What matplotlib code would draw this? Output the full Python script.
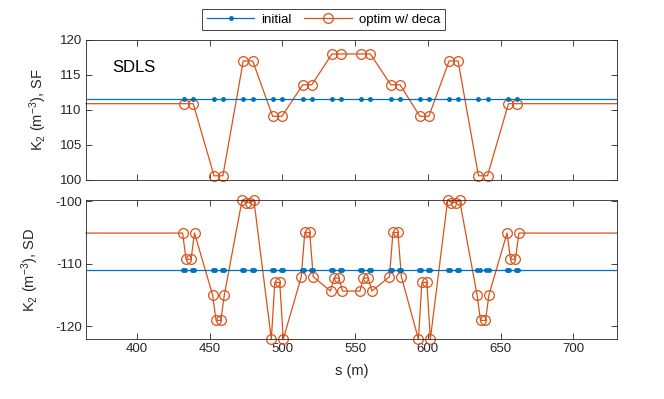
import matplotlib
matplotlib.use("Agg")
import matplotlib.pyplot as plt
from matplotlib.lines import Line2D

plt.rcParams['font.family'] = ['Liberation Sans', 'DejaVu Sans']
plt.rcParams['mathtext.fontset'] = 'custom'
plt.rcParams['mathtext.rm'] = 'Liberation Sans'
plt.rcParams['mathtext.it'] = 'Liberation Sans:italic'
plt.rcParams['axes.unicode_minus'] = False

# ---------------- data ----------------
x_limits = [365, 730]

# SF sextupole positions (m)
s_sf = [432.3, 438.7, 453.0, 459.1, 473.1, 479.6, 493.3, 499.7,
        514.0, 520.2, 534.1, 540.3, 554.3, 560.5, 574.5, 580.9,
        594.5, 600.7, 614.6, 620.8, 634.8, 641.0, 655.4, 661.6]
k2_sf_initial = [111.5] * 24
k2_sf_optim = [110.9, 110.9, 100.6, 100.6, 117.0, 117.0, 109.1, 109.1,
               113.6, 113.6, 118.0, 118.0, 118.0, 118.0, 113.6, 113.6,
               109.1, 109.1, 117.0, 117.0, 100.6, 100.6, 110.9, 110.9]

# SD sextupole positions (m), initial lattice
s_sd_initial = [431.6, 433.0, 438.0, 439.4, 452.3, 453.7, 458.4, 459.8,
                472.4, 473.8, 478.9, 480.3, 492.6, 494.0, 499.0, 500.4,
                513.3, 514.7, 519.5, 520.9, 533.4, 534.8, 539.6, 541.0,
                553.6, 555.0, 559.8, 561.2, 573.8, 575.2, 580.2, 581.6,
                593.8, 595.2, 600.0, 601.4, 613.9, 615.3, 620.1, 621.5,
                634.1, 635.5, 640.3, 641.7, 654.7, 656.1, 660.9, 662.3]
k2_sd_initial = [-111.0] * 48

# SD sextupole positions (m), optimised lattice
s_sd_optim = [431.4, 433.8, 437.2, 439.6, 452.0, 454.4, 457.7, 460.1,
              472.3, 474.7, 478.0, 480.4, 492.4, 494.8, 498.2, 500.6,
              513.0, 515.4, 518.8, 521.2, 533.1, 535.5, 538.9, 541.3,
              553.3, 555.7, 559.1, 561.5, 573.6, 576.0, 579.4, 581.8,
              593.5, 595.9, 599.3, 601.7, 613.6, 616.0, 619.4, 621.8,
              633.8, 636.2, 639.6, 642.0, 654.4, 656.8, 660.2, 662.6]
k2_sd_optim = [-105.1, -109.3, -109.3, -105.1,
               -115.0, -119.1, -119.1, -115.0,
               -99.8, -100.2, -100.2, -99.8,
               -122.1, -113.0, -113.0, -122.1,
               -112.1, -105.0, -105.0, -112.1,
               -114.4, -112.3, -112.3, -114.4,
               -114.4, -112.3, -112.3, -114.4,
               -112.1, -105.0, -105.0, -112.1,
               -122.1, -113.0, -113.0, -122.1,
               -99.8, -100.2, -100.2, -99.8,
               -115.0, -119.1, -119.1, -115.0,
               -105.1, -109.3, -109.3, -105.1]

sf_yticks = [100, 105, 110, 115, 120]
sd_yticks = [-120, -110, -100]
x_ticks = [400, 450, 500, 550, 600, 650, 700]

# ---------------- style ----------------
c_init = '#0072BD'
c_opt = '#D95319'
axis_col = '#262626'
ms_opt = 7.0
ms_init = 5.0

fig = plt.figure(figsize=(6.64, 3.99), dpi=100)
ax1 = fig.add_axes([0.1295, 0.5489, 0.7997, 0.3509])
ax2 = fig.add_axes([0.1295, 0.1496, 0.7997, 0.3491])


def extend(s, v):
    xs = [x_limits[0]] + list(s) + [x_limits[1]]
    ys = [v[0]] + list(v) + [v[-1]]
    return xs, ys


def draw(ax, s_i, v_i, s_o, v_o):
    xs, ys = extend(s_o, v_o)
    ax.plot(xs, ys, color=c_opt, lw=0.9, marker='o', ms=ms_opt, mfc='none',
            mew=0.9, markevery=list(range(1, len(xs) - 1)), clip_on=False,
            zorder=2)
    xs, ys = extend(s_i, v_i)
    ax.plot(xs, ys, color=c_init, lw=0.9, marker='.', ms=ms_init,
            markevery=list(range(1, len(xs) - 1)), zorder=3)


draw(ax1, s_sf, k2_sf_initial, s_sf, k2_sf_optim)
draw(ax2, s_sd_initial, k2_sd_initial, s_sd_optim, k2_sd_optim)

for ax in (ax1, ax2):
    ax.set_xlim(*x_limits)
    ax.set_xticks(x_ticks)
    ax.tick_params(direction='in', top=True, right=True, length=4,
                   width=0.6, colors=axis_col, labelsize=9.5, pad=3)
    for sp in ax.spines.values():
        sp.set_color(axis_col)
        sp.set_linewidth(0.6)

ax1.set_ylim(100, 120)
ax1.set_yticks(sf_yticks)
ax1.tick_params(labelbottom=False)
ax2.set_ylim(-122.13, -99.8)
ax2.set_yticks(sd_yticks)

ax1.set_ylabel('K$_2$ (m$^{-3}$), SF', fontsize=10.5, color=axis_col)
ax2.set_ylabel('K$_2$ (m$^{-3}$), SD', fontsize=10.5, color=axis_col)
ax2.set_xlabel('s (m)', fontsize=10.5, color=axis_col, labelpad=6)
ax1.yaxis.set_label_coords(-0.069, 0.5)
ax2.yaxis.set_label_coords(-0.084, 0.5)

ax1.text(383, 116.1, 'SDLS', fontsize=12, va='center', ha='left')

handles = [Line2D([], [], color=c_init, lw=0.9, marker='.', ms=ms_init),
           Line2D([], [], color=c_opt, lw=0.9, marker='o', ms=ms_opt,
                  mfc='none', mew=0.9)]
leg = fig.legend(handles, ['initial', 'optim w/ deca'], loc='center',
                 bbox_to_anchor=(0.487, 0.951), ncol=2, fontsize=9.5,
                 frameon=True, fancybox=False, framealpha=1,
                 edgecolor=axis_col, handlelength=3.6, columnspacing=1.0,
                 handletextpad=0.5, borderpad=0.35)
leg.get_frame().set_linewidth(0.6)

fig.savefig('out.png', dpi=100)
